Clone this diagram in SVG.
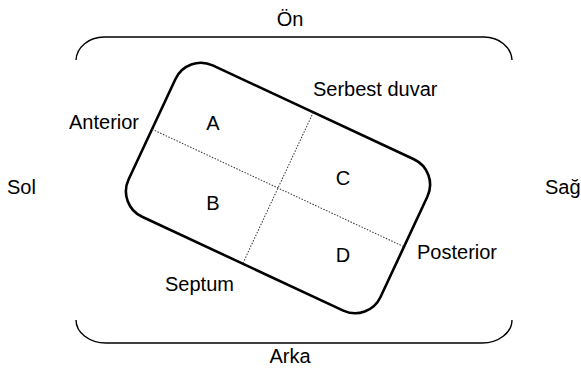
<svg xmlns="http://www.w3.org/2000/svg" width="581" height="374" viewBox="0 0 581 374">
<style>
text{font-family:"Liberation Sans",Arial,sans-serif;font-size:20px;fill:#000}
.br{fill:none;stroke:#000;stroke-width:1.4}
.box{fill:none;stroke:#000;stroke-width:2.6}
.dot{stroke:#333;stroke-width:1;stroke-dasharray:1.5 1.5}
</style>
<rect width="581" height="374" fill="#fff"/>
<g id="brackets">
<path class="br" d="M76,60 A28,24 0 0 1 104,37 L484,37 A28,24 0 0 1 512,60"/>
<path class="br" d="M76,320 A30,23 0 0 0 106,343 L482,343 A30,23 0 0 0 512,320"/>
</g>
<g id="heart" transform="translate(278,188) rotate(25)">
<rect class="box" x="-139" y="-83.5" width="278" height="167" rx="28" ry="28"/>
</g>
<g id="connectors" transform="translate(278,188) rotate(25)">
<line class="dot" x1="-139" y1="0" x2="139" y2="0"/>
<line class="dot" x1="0" y1="-83.5" x2="0" y2="83.5"/>
</g>
<g id="labels">
<text x="290" y="26" text-anchor="middle">Ön</text>
<text x="290" y="363" text-anchor="middle">Arka</text>
<text x="7" y="194">Sol</text>
<text x="545" y="194">Sağ</text>
<text x="69" y="128.5">Anterior</text>
<text x="313" y="95.5">Serbest duvar</text>
<text x="417" y="258.5">Posterior</text>
<text x="165" y="291">Septum</text>
<text x="213" y="130" text-anchor="middle">A</text>
<text x="213" y="209.5" text-anchor="middle">B</text>
<text x="343" y="184.5" text-anchor="middle">C</text>
<text x="343" y="262" text-anchor="middle">D</text>
</g>
</svg>
